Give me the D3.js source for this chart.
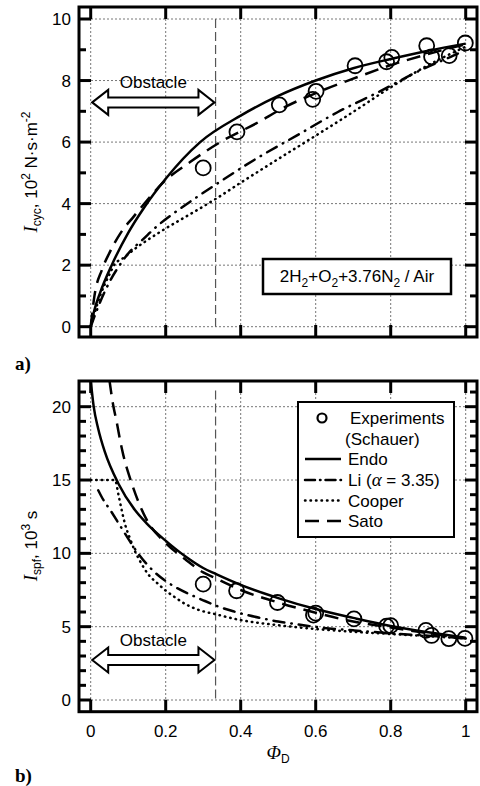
<!DOCTYPE html>
<html>
<head>
<meta charset="utf-8">
<script src="https://cdn.jsdelivr.net/npm/d3@7"></script>
<style>
body { margin: 0; background: #fff; }
text { font-family: "Liberation Sans", Arial, sans-serif; fill: #000; }
</style>
</head>
<body>
<div id="chart"></div>
<script>
// tick labels
var xTicks = [0, 0.2, 0.4, 0.6, 0.8, 1];
var topYTicks = [0, 2, 4, 6, 8, 10];
var botYTicks = [0, 5, 10, 15, 20];

// a) cycle impulse, 10^2 N s m^-2  -- [phiD, value]
var topExp = [[0.300, 5.16], [0.390, 6.33], [0.503, 7.21], [0.592, 7.39], [0.601, 7.65], [0.705, 8.48],
    [0.789, 8.61], [0.803, 8.75], [0.896, 9.13], [0.909, 8.77], [0.956, 8.81], [0.999, 9.22]];
var topEndo = [[0, 0], [0.01, 0.55], [0.025, 1.1], [0.056, 2.0], [0.1, 3.05], [0.144, 3.9], [0.2, 4.81],
    [0.292, 6.0], [0.4, 6.86], [0.5, 7.5], [0.6, 8.0], [0.7, 8.4], [0.8, 8.7], [0.9, 8.97], [1, 9.2]];
var topLi = [[0, 0], [0.02, 0.65], [0.05, 1.45], [0.08, 2.05], [0.105, 2.45], [0.136, 2.8], [0.18, 3.3],
    [0.232, 3.78], [0.284, 4.22], [0.336, 4.64], [0.44, 5.45], [0.549, 6.21], [0.658, 6.97], [0.77, 7.64],
    [0.88, 8.34], [0.967, 8.81], [1, 9.0]];
var topCooper = [[0, 0], [0.025, 1.0], [0.05, 1.7], [0.065, 2.05], [0.083, 2.2], [0.12, 2.55], [0.185, 3.08],
    [0.25, 3.55], [0.333, 4.15], [0.4, 4.68], [0.5, 5.45], [0.6, 6.21], [0.7, 6.98], [0.8, 7.78],
    [0.9, 8.5], [1, 9.1]];
var topSato = [[0, 0], [0.01, 1.0], [0.03, 1.85], [0.05, 2.4], [0.08, 3.05], [0.114, 3.57], [0.15, 4.1],
    [0.19, 4.65], [0.265, 5.35], [0.35, 6.03], [0.44, 6.6], [0.52, 7.15], [0.62, 7.69], [0.7, 8.06],
    [0.8, 8.5], [0.89, 8.83], [1, 9.18]];

// b) specific impulse, 10^3 s
var botExp = [[0.300, 7.9], [0.389, 7.45], [0.498, 6.65], [0.594, 5.79], [0.600, 5.93], [0.702, 5.53],
    [0.789, 5.04], [0.800, 5.07], [0.894, 4.75], [0.909, 4.40], [0.955, 4.18], [0.998, 4.20]];
var botEndo = [[0, 21.8], [0.008, 20.0], [0.02, 18.5], [0.038, 16.9], [0.074, 14.75], [0.118, 12.95],
    [0.149, 12.05], [0.198, 10.9], [0.252, 9.8], [0.3, 9.0], [0.333, 8.6], [0.4, 7.85], [0.5, 6.95],
    [0.6, 6.2], [0.7, 5.6], [0.8, 5.05], [0.9, 4.62], [1, 4.25]];
var botLi = [[0.02, 14.3], [0.029, 13.86], [0.056, 12.8], [0.078, 11.9], [0.105, 10.8], [0.132, 9.8],
    [0.167, 8.8], [0.198, 8.15], [0.229, 7.65], [0.269, 7.15], [0.3, 6.8], [0.34, 6.38], [0.38, 6.05],
    [0.42, 5.78], [0.46, 5.55], [0.5, 5.35], [0.54, 5.2], [0.58, 5.05], [0.62, 4.92], [0.7, 4.75],
    [0.8, 4.55], [0.9, 4.38], [1, 4.2]];
var botCooper = [[0, 15], [0.065, 15], [0.074, 14.0], [0.083, 12.9], [0.092, 11.95], [0.105, 11.0],
    [0.118, 10.15], [0.132, 9.45], [0.154, 8.55], [0.176, 8.0], [0.198, 7.5], [0.225, 7.0], [0.252, 6.55],
    [0.287, 6.15], [0.333, 5.85], [0.4, 5.45], [0.5, 5.1], [0.6, 4.84], [0.7, 4.65], [0.8, 4.5],
    [0.9, 4.35], [1, 4.2]];
var botSato = [[0.05, 21.8], [0.06, 20.1], [0.069, 19.0], [0.08, 17.5], [0.087, 16.7], [0.109, 14.8],
    [0.147, 12.4], [0.2, 10.7], [0.252, 9.6], [0.3, 8.7], [0.333, 8.3], [0.4, 7.5], [0.5, 6.65],
    [0.6, 5.95], [0.69, 5.4], [0.8, 4.95], [0.9, 4.55], [1, 4.2]];

var obstacleEdge = 0.333;

var styles = {
    endo: {dash: null, cap: 'butt'},
    li: {dash: '11,7,0.5,7', cap: 'round'},
    cooper: {dash: '0.5,5', cap: 'round'},
    sato: {dash: '14,8', cap: 'butt'}
};

var svg = d3.select('#chart').append('svg')
    .attr('width', 480).attr('height', 786);

var x = d3.scaleLinear().domain([0, 1]).range([90.7, 465.7]);

function drawPanel(p) {
    var g = svg.append('g');
    var y = p.y;
    var clipId = 'clip' + p.name;
    svg.append('clipPath').attr('id', clipId).append('rect')
        .attr('x', p.x0).attr('y', p.y0).attr('width', p.x1 - p.x0).attr('height', p.y1 - p.y0);

    // grid
    g.selectAll('.vg').data(xTicks).enter().append('line')
        .attr('x1', function(d) { return x(d); }).attr('x2', function(d) { return x(d); })
        .attr('y1', p.y0).attr('y2', p.y1)
        .style('stroke', '#777').style('stroke-width', 1).style('stroke-dasharray', '2,2');
    g.selectAll('.hg').data(p.ticks).enter().append('line')
        .attr('x1', p.x0).attr('x2', p.x1)
        .attr('y1', function(d) { return y(d); }).attr('y2', function(d) { return y(d); })
        .style('stroke', '#777').style('stroke-width', 1).style('stroke-dasharray', '2,2');

    // obstacle boundary
    g.append('line')
        .attr('x1', x(obstacleEdge)).attr('x2', x(obstacleEdge))
        .attr('y1', y(p.dashTop)).attr('y2', y(0))
        .style('stroke', '#555').style('stroke-width', 1.2).style('stroke-dasharray', '9,4');

    // obstacle arrow
    var ax0 = x(0.004), ax1 = x(0.33), ay = y(p.arrowY);
    var hl = 16, hh = 12.5, bh = 5;
    var pts = [[ax0, ay], [ax0 + hl, ay - hh], [ax0 + hl, ay - bh], [ax1 - hl, ay - bh], [ax1 - hl, ay - hh],
        [ax1, ay], [ax1 - hl, ay + hh], [ax1 - hl, ay + bh], [ax0 + hl, ay + bh], [ax0 + hl, ay + hh]];
    g.append('path').attr('d', 'M' + pts.join('L') + 'Z')
        .style('fill', '#fff').style('stroke', '#000').style('stroke-width', 2);
    g.append('text').attr('x', (ax0 + ax1) / 2).attr('y', ay - 14)
        .attr('text-anchor', 'middle').style('font-size', '17px').text('Obstacle');

    // curves
    var line = d3.line()
        .x(function(d) { return x(d[0]); })
        .y(function(d) { return y(d[1]); })
        .curve(d3.curveMonotoneX);
    var curves = g.append('g').attr('clip-path', 'url(#' + clipId + ')');
    p.series.forEach(function(s) {
        var st = styles[s.key];
        curves.append('path').datum(s.data).attr('d', line)
            .style('fill', 'none').style('stroke', '#000').style('stroke-width', 2.5)
            .style('stroke-linecap', st.cap)
            .style('stroke-dasharray', st.dash);
    });

    // experiments
    curves.selectAll('.pt').data(p.exp).enter().append('circle')
        .attr('cx', function(d) { return x(d[0]); })
        .attr('cy', function(d) { return y(d[1]); })
        .attr('r', 7.5)
        .style('fill', 'none').style('stroke', '#000').style('stroke-width', 1.8);

    // frame
    g.append('rect').attr('x', p.x0).attr('y', p.y0)
        .attr('width', p.x1 - p.x0).attr('height', p.y1 - p.y0)
        .style('fill', 'none').style('stroke', '#000').style('stroke-width', 3);

    // ticks (inward)
    var tk = g.append('g').style('stroke', '#000').style('stroke-width', 3);
    xTicks.forEach(function(d) {
        tk.append('line').attr('x1', x(d)).attr('x2', x(d)).attr('y1', p.y0).attr('y2', p.y0 + 12);
        tk.append('line').attr('x1', x(d)).attr('x2', x(d)).attr('y1', p.y1).attr('y2', p.y1 - 12);
    });
    p.ticks.forEach(function(d) {
        tk.append('line').attr('x1', p.x0).attr('x2', p.x0 + 12).attr('y1', y(d)).attr('y2', y(d));
        tk.append('line').attr('x1', p.x1).attr('x2', p.x1 - 12).attr('y1', y(d)).attr('y2', y(d));
    });
    p.minor.forEach(function(d) {
        tk.append('line').attr('x1', p.x0).attr('x2', p.x0 + 7).attr('y1', y(d)).attr('y2', y(d));
        tk.append('line').attr('x1', p.x1).attr('x2', p.x1 - 7).attr('y1', y(d)).attr('y2', y(d));
    });

    // y tick labels
    g.selectAll('.yl').data(p.ticks).enter().append('text')
        .attr('x', 71).attr('y', function(d) { return y(d) + 6; })
        .attr('text-anchor', 'end').style('font-size', '17px')
        .text(function(d) { return d; });

    return g;
}

var yTop = d3.scaleLinear().domain([0, 10]).range([326.7, 19]);
var yBot = d3.scaleLinear().domain([0, 20]).range([700, 406.7]);

drawPanel({
    name: 'a', y: yTop, x0: 79, x1: 477, y0: 7, y1: 337,
    ticks: topYTicks, minor: [1, 3, 5, 7, 9], dashTop: 10, arrowY: 7.29,
    exp: topExp,
    series: [{key: 'endo', data: topEndo}, {key: 'li', data: topLi},
        {key: 'cooper', data: topCooper}, {key: 'sato', data: topSato}]
});

drawPanel({
    name: 'b', y: yBot, x0: 79, x1: 477, y0: 381, y1: 711.7,
    ticks: botYTicks, minor: d3.range(1, 22).filter(function(d) { return d % 5 !== 0; }),
    dashTop: 21.1, arrowY: 2.73,
    exp: botExp,
    series: [{key: 'endo', data: botEndo}, {key: 'li', data: botLi},
        {key: 'cooper', data: botCooper}, {key: 'sato', data: botSato}]
});

// x tick labels (bottom panel only)
svg.selectAll('.xl').data(xTicks).enter().append('text')
    .attr('x', function(d) { return x(d); }).attr('y', 737)
    .attr('text-anchor', 'middle').style('font-size', '17px')
    .text(function(d) { return d; });

// mixture label box (panel a)
svg.append('rect').attr('x', 263).attr('y', 259).attr('width', 188).attr('height', 35)
    .style('fill', '#fff').style('stroke', '#000').style('stroke-width', 2.5);
var mix = svg.append('text').attr('x', 357).attr('y', 282).attr('text-anchor', 'middle')
    .style('font-size', '17px');
mix.append('tspan').text('2H');
mix.append('tspan').attr('dy', 5).style('font-size', '12px').text('2');
mix.append('tspan').attr('dy', -5).text('+O');
mix.append('tspan').attr('dy', 5).style('font-size', '12px').text('2');
mix.append('tspan').attr('dy', -5).text('+3.76N');
mix.append('tspan').attr('dy', 5).style('font-size', '12px').text('2');
mix.append('tspan').attr('dy', -5).text(' / Air');

// legend (panel b)
svg.append('rect').attr('x', 298).attr('y', 402).attr('width', 156).attr('height', 135)
    .style('fill', '#fff').style('stroke', '#000').style('stroke-width', 2);
svg.append('circle').attr('cx', 322).attr('cy', 418).attr('r', 4.5)
    .style('fill', 'none').style('stroke', '#000').style('stroke-width', 2.2);
svg.append('text').attr('x', 350).attr('y', 424).style('font-size', '17px').text('Experiments');
svg.append('text').attr('x', 345).attr('y', 445).style('font-size', '17px').text('(Schauer)');
var legendItems = [
    {key: 'endo', label: 'Endo', y: 465},
    {key: 'li', label: null, y: 486},
    {key: 'cooper', label: 'Cooper', y: 506.5},
    {key: 'sato', label: 'Sato', y: 527}
];
legendItems.forEach(function(d) {
    var st = styles[d.key];
    svg.append('line').attr('x1', 305).attr('x2', 341).attr('y1', d.y - 6).attr('y2', d.y - 6)
        .style('stroke', '#000').style('stroke-width', 2.5)
        .style('stroke-linecap', st.cap)
        .style('stroke-dasharray', d.key === 'li' ? '10,5,0.5,5' : st.dash);
    var t = svg.append('text').attr('x', 348).attr('y', d.y).style('font-size', '17px');
    if (d.label) {
        t.text(d.label);
    } else {
        t.append('tspan').text('Li (');
        t.append('tspan').style('font-family', '"Liberation Serif", serif').style('font-style', 'italic')
            .style('font-size', '19px').text('α');
        t.append('tspan').text(' = 3.35)');
    }
});

// axis titles
var ta = svg.append('text').attr('transform', 'translate(37,172) rotate(-90)')
    .attr('text-anchor', 'middle').style('font-size', '17px');
ta.append('tspan').style('font-family', '"Liberation Serif", serif').style('font-style', 'italic')
    .style('font-size', '19px').text('I');
ta.append('tspan').attr('dy', 4).style('font-size', '12px').text('cyc');
ta.append('tspan').attr('dy', -4).text(', 10');
ta.append('tspan').attr('dy', -7).style('font-size', '12px').text('2');
ta.append('tspan').attr('dy', 7).text(' N·s·m');
ta.append('tspan').attr('dy', -7).style('font-size', '12px').text('-2');

var tb = svg.append('text').attr('transform', 'translate(37,546) rotate(-90)')
    .attr('text-anchor', 'middle').style('font-size', '17px');
tb.append('tspan').style('font-family', '"Liberation Serif", serif').style('font-style', 'italic')
    .style('font-size', '19px').text('I');
tb.append('tspan').attr('dy', 4).style('font-size', '12px').text('spf');
tb.append('tspan').attr('dy', -4).text(', 10');
tb.append('tspan').attr('dy', -7).style('font-size', '12px').text('3');
tb.append('tspan').attr('dy', 7).text(' s');

var tx = svg.append('text').attr('x', 278).attr('y', 759).attr('text-anchor', 'middle')
    .style('font-size', '17px');
tx.append('tspan').style('font-family', '"Liberation Serif", serif').style('font-style', 'italic')
    .style('font-size', '19px').text('Φ');
tx.append('tspan').attr('dy', 4).style('font-size', '12px').text('D');

// panel letters
svg.append('text').attr('x', 15).attr('y', 370)
    .style('font-family', '"Liberation Serif", serif').style('font-weight', 'bold').style('font-size', '19px')
    .text('a)');
svg.append('text').attr('x', 15).attr('y', 782)
    .style('font-family', '"Liberation Serif", serif').style('font-weight', 'bold').style('font-size', '19px')
    .text('b)');
</script>
</body>
</html>
